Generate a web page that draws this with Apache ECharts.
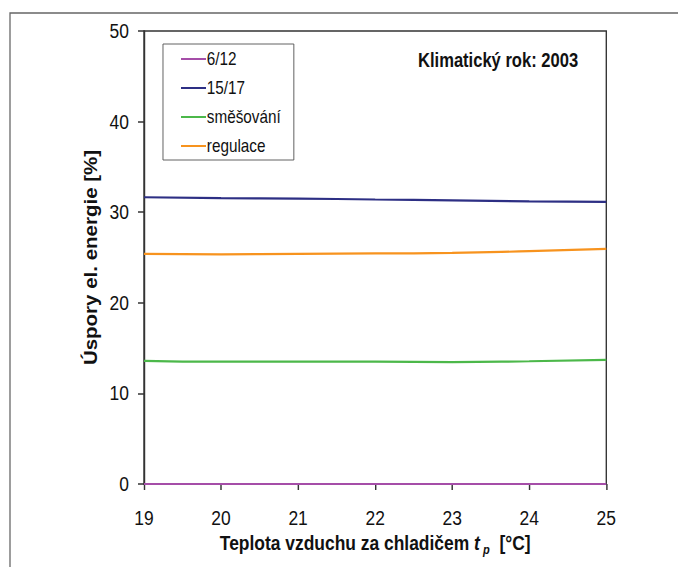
<!DOCTYPE html>
<html>
<head>
<meta charset="utf-8">
<script src="https://cdn.jsdelivr.net/npm/echarts@6/dist/echarts.min.js"></script>
<style>
html,body{margin:0;padding:0;background:#fff;overflow:hidden;}
#wrap{width:678px;height:567px;overflow:hidden;position:relative;}
#chart{height:567px;transform-origin:0 0;position:absolute;left:0;top:0;}
</style>
</head>
<body>
<div id="wrap"><div id="chart"></div></div>
<script>
var xValues = [19, 20, 21, 22, 23, 24, 25];
var seriesNames = ['6/12', '15/17', 'směšování', 'regulace'];
var s6_12 = [0, 0, 0, 0, 0, 0, 0];
var s15_17 = [31.65, 31.55, 31.5, 31.4, 31.3, 31.2, 31.15];
var sSmesovani = [13.6, 13.5, 13.5, 13.5, 13.45, 13.55, 13.7];
var sRegulace = [25.4, 25.35, 25.4, 25.45, 25.5, 25.7, 25.95];
var yTicks = [0, 10, 20, 30, 40, 50];
var xTicks = [19, 20, 21, 22, 23, 24, 25];
var annotation = 'Klimatický rok: 2003';
var yTitle = 'Úspory el. energie [%]';

// horizontal condensation to imitate the narrow typeface of the original
var SX = 0.85;
function hx(v) { return v / SX; }

var FONT = "'Liberation Sans', Arial, sans-serif";
var colors = ['#A54EA8', '#2D2F84', '#4CB84A', '#F7931E'];

function pairs(vals) {
  return xValues.map(function (x, i) { return [x, vals[i]]; });
}
var allData = [s6_12, s15_17, sSmesovani, sRegulace];

var el = document.getElementById('chart');
el.style.width = hx(678) + 'px';
el.style.transform = 'scaleX(' + SX + ')';

var chart = echarts.init(el, null, { renderer: 'svg' });
chart.setOption({
  animation: false,
  backgroundColor: '#fff',
  textStyle: { fontFamily: FONT },
  graphic: [{
    type: 'rect',
    shape: { x: hx(10), y: 13, width: hx(720), height: 620 },
    style: { fill: 'none', stroke: '#666', lineWidth: 1.5 },
    silent: true
  }],
  title: {
    text: annotation,
    left: hx(418), top: 51, padding: 0,
    textStyle: { fontFamily: FONT, fontSize: 19.5, fontWeight: 'bold', color: '#111' }
  },
  legend: {
    orient: 'vertical',
    left: hx(163), top: 44,
    padding: [6, hx(13), 5, hx(18)],
    itemGap: 11,
    itemWidth: hx(25), itemHeight: 2,
    icon: 'rect',
    borderColor: '#555', borderWidth: 1,
    data: seriesNames,
    textStyle: { fontFamily: FONT, fontSize: 18, color: '#111', lineHeight: 18, padding: [0, 0, 0, -4] }
  },
  grid: { left: hx(144), right: hx(72), top: 31, bottom: 83, show: true, borderColor: '#333', borderWidth: 1.6, backgroundColor: 'transparent' },
  xAxis: {
    type: 'value', min: xTicks[0], max: xTicks[xTicks.length - 1], interval: 1,
    name: '{b|Teplota vzduchu za chladičem }{i|t}{s| p}{b|  [°C]}',
    nameLocation: 'middle', nameGap: 44,
    nameTextStyle: {
      rich: {
        b: { fontFamily: FONT, fontSize: 20.5, fontWeight: 'bold', color: '#111', lineHeight: 26 },
        i: { fontFamily: FONT, fontSize: 20.5, fontWeight: 'bold', fontStyle: 'italic', color: '#111', lineHeight: 26 },
        s: { fontFamily: FONT, fontSize: 13, fontWeight: 'bold', fontStyle: 'italic', color: '#111', lineHeight: 26, verticalAlign: 'bottom' }
      }
    },
    axisLine: { show: true, lineStyle: { color: '#333', width: 1.5 } },
    axisTick: { show: true, length: 6, lineStyle: { color: '#333', width: 1.7 } },
    axisLabel: { fontFamily: FONT, fontSize: 20.5, color: '#111', margin: 23 },
    splitLine: { show: false }
  },
  yAxis: {
    type: 'value', min: yTicks[0], max: yTicks[yTicks.length - 1], interval: 10,
    name: yTitle,
    nameLocation: 'middle', nameGap: hx(35), nameRotate: 90,
    nameTextStyle: { fontFamily: FONT, fontSize: 20.5, fontWeight: 'bold', color: '#111' },
    axisLine: { show: true, lineStyle: { color: '#333', width: 1.7 } },
    axisTick: { show: true, length: hx(6), lineStyle: { color: '#333', width: 1.5 } },
    axisLabel: { fontFamily: FONT, fontSize: 20.5, color: '#111', margin: hx(15) },
    splitLine: { show: false }
  },
  series: seriesNames.map(function (name, i) {
    return {
      name: name, type: 'line', smooth: true, showSymbol: false, symbol: 'none',
      data: pairs(allData[i]),
      itemStyle: { color: colors[i] },
      lineStyle: { color: colors[i], width: 2.2 },
      z: i === 0 ? 10 : 3
    };
  })
});
</script>
</body>
</html>
